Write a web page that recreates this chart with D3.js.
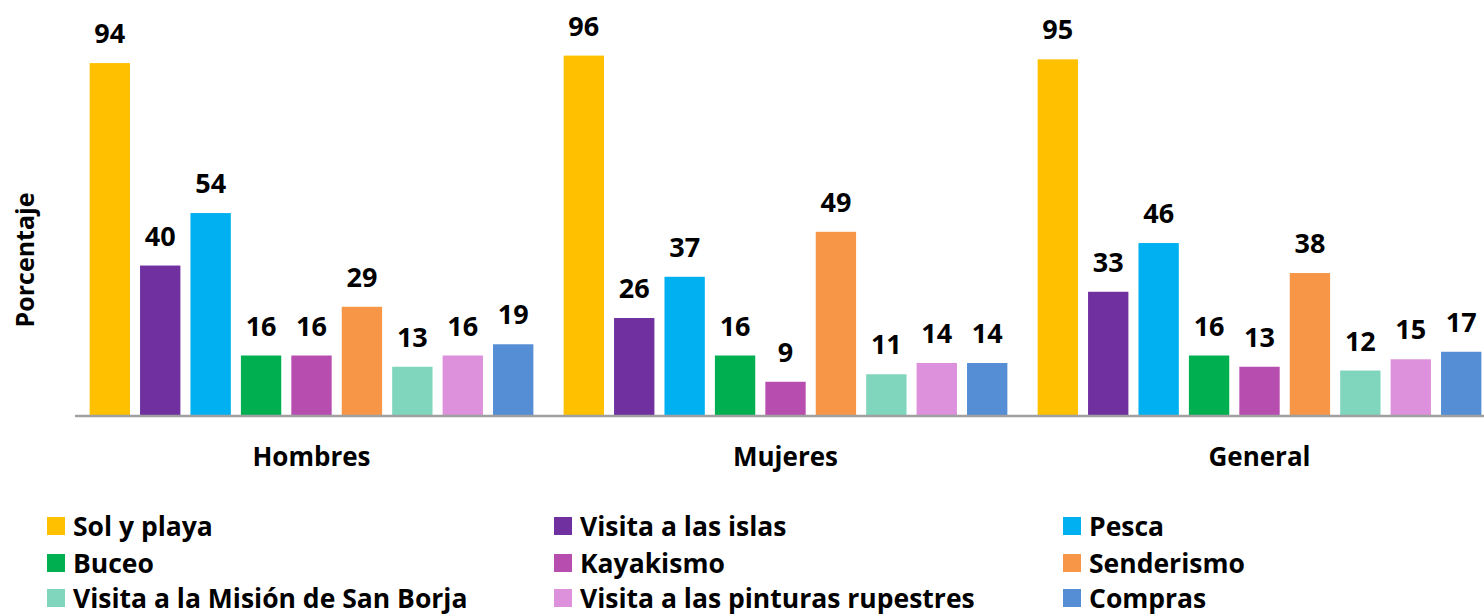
<!DOCTYPE html>
<html>
<head>
    <meta charset="utf-8">
    <title>Actividades por sexo</title>
    <script src="https://cdn.jsdelivr.net/npm/d3@7"></script>
    <style>
        body { margin: 0; background: #fff; }
        text { font-family: "Open Sans", "Noto Sans", sans-serif; font-weight: bold; fill: #000; }
    </style>
</head>
<body>
    <svg width="1484" height="615" id="mainSvg"></svg>
    <script>
        // data
        const groups = ["Hombres", "Mujeres", "General"];
        const activities = [
            "Sol y playa", "Visita a las islas", "Pesca",
            "Buceo", "Kayakismo", "Senderismo",
            "Visita a la Misión de San Borja", "Visita a las pinturas rupestres", "Compras"
        ];
        const hombres = [94, 40, 54, 16, 16, 29, 13, 16, 19];
        const mujeres = [96, 26, 37, 16, 9, 49, 11, 14, 14];
        const general = [95, 33, 46, 16, 13, 38, 12, 15, 17];
        const colors = ["#FFC000", "#7030A0", "#00B0F0", "#00B050", "#B84DB0",
                        "#F79646", "#7FD6BC", "#DD90DB", "#558ED5"];

        const values = { Hombres: hombres, Mujeres: mujeres, General: general };

        const svg = d3.select("#mainSvg");
        const baseY = 415.5;

        const x0 = d3.scaleBand().domain(groups).range([74.5, 1496.5]).padding(0);
        const x1 = d3.scaleBand().domain(activities).range([0, x0.bandwidth()])
            .paddingInner(0.2).paddingOuter(0.3);
        const y = d3.scaleLinear().domain([0, 100]).range([baseY, 40.6]);
        const color = d3.scaleOrdinal().domain(activities).range(colors);

        const g = svg.selectAll("g.grp")
            .data(groups)
            .join("g")
            .attr("class", "grp")
            .attr("transform", d => `translate(${x0(d)},0)`);

        const cells = g.selectAll("g.bar")
            .data(grp => activities.map((a, i) => ({ a, v: values[grp][i] })))
            .join("g")
            .attr("class", "bar");

        cells.append("rect")
            .attr("x", d => x1(d.a))
            .attr("width", x1.bandwidth())
            .attr("y", d => y(d.v))
            .attr("height", d => baseY - y(d.v))
            .attr("fill", d => color(d.a));

        cells.append("text")
            .attr("x", d => x1(d.a) + x1.bandwidth() / 2)
            .attr("y", d => y(d.v) - 20)
            .attr("text-anchor", "middle")
            .attr("font-size", 27)
            .text(d => d.v);

        // x axis
        const xAxis = svg.append("g")
            .attr("transform", `translate(0,${baseY})`)
            .call(d3.axisBottom(x0).tickSize(0).tickPadding(32));
        xAxis.select(".domain").attr("stroke", "#A0A0A0").attr("stroke-width", 2.5);
        xAxis.selectAll("text")
            .attr("font-size", 26)
            .attr("font-family", "Open Sans, sans-serif")
            .attr("font-weight", "bold")
            .attr("fill", "#000");

        // y title
        svg.append("text")
            .attr("transform", "translate(34,260) rotate(-90)")
            .attr("text-anchor", "middle")
            .attr("font-size", 25)
            .text("Porcentaje");

        // legend
        const colX = [47, 554, 1063];
        const rowY = [526, 563, 598];
        const leg = svg.selectAll("g.leg")
            .data(activities)
            .join("g")
            .attr("class", "leg")
            .attr("transform", (d, i) => `translate(${colX[i % 3]},${rowY[Math.floor(i / 3)]})`);
        leg.append("rect")
            .attr("x", 0).attr("y", -9)
            .attr("width", 18).attr("height", 18)
            .attr("fill", d => color(d));
        leg.append("text")
            .attr("x", 26)
            .attr("y", 10)
            .attr("font-size", 26.5)
            .text(d => d);
    </script>
</body>
</html>
